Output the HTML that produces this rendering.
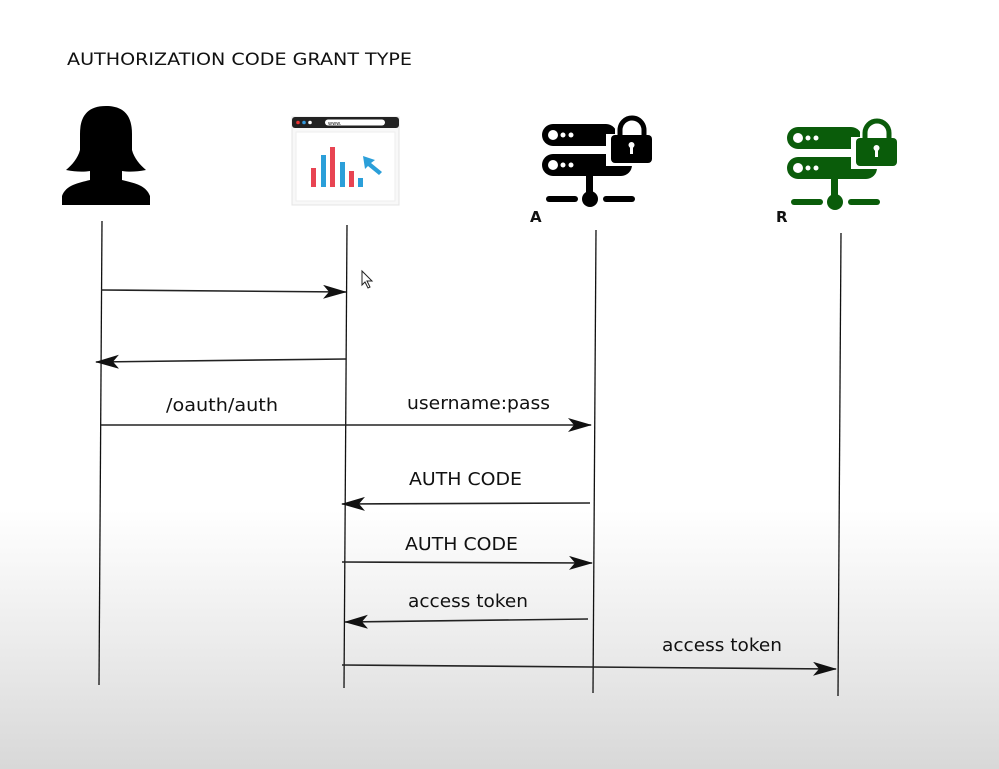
<!DOCTYPE html>
<html><head><meta charset="utf-8"><style>
html,body{margin:0;padding:0}
body{width:999px;height:769px;overflow:hidden;background:linear-gradient(#fff 0px,#fff 510px,#ececec 640px,#d8d8d8 769px)}
svg{position:absolute;left:0;top:0}
text{font-family:"DejaVu Sans","Liberation Sans",sans-serif;fill:#111}
</style></head><body>
<svg width="999" height="769" viewBox="0 0 999 769">
<defs>
<marker id="ah" viewBox="0 0 24 14" refX="23" refY="7" markerWidth="24" markerHeight="14" markerUnits="userSpaceOnUse" orient="auto">
<path d="M0,0 L24,7 L0,14 L6,7 Z" fill="#111"/>
</marker>
</defs>
<text x="67" y="65" font-size="17" textLength="345" lengthAdjust="spacingAndGlyphs">AUTHORIZATION CODE GRANT TYPE</text>

<!-- person -->
<path d="M106,106 C86,106 80,118 80,134 L80,150 C78,158 72,165 66,170 C76,172 84,172 90,171 L90,180 C78,183 66,185 62,196 L62,205 L150,205 L150,196 C146,185 134,183 122,180 L122,171 C128,172 136,172 146,170 C140,165 134,158 132,150 L132,134 C132,118 126,106 106,106 Z" fill="#000"/>

<!-- browser -->
<rect x="292" y="117" width="107" height="88" fill="#f8f8f8" stroke="#e4e4e4"/>
<rect x="292" y="117" width="107" height="11" rx="3" fill="#222"/>
<circle cx="298" cy="122.5" r="1.8" fill="#e33"/><circle cx="304" cy="122.5" r="1.8" fill="#39d"/><circle cx="310" cy="122.5" r="1.8" fill="#fff"/>
<rect x="325" y="119.5" width="60" height="6" rx="3" fill="#fff"/>
<text x="328" y="125" font-size="5" fill="#333">www.</text>
<rect x="296" y="132" width="99" height="69" fill="#fff" stroke="#eee"/>
<rect x="311" y="168" width="5" height="19" fill="#e84452"/>
<rect x="321" y="155" width="5" height="32" fill="#2b9fd9"/>
<rect x="330" y="147" width="5" height="40" fill="#e84452"/>
<rect x="340" y="162" width="5" height="25" fill="#2b9fd9"/>
<rect x="349" y="171" width="5" height="16" fill="#e84452"/>
<rect x="358" y="178" width="5" height="9" fill="#2b9fd9"/>
<path d="M363,156 L375,160 L371,163 L382,172 L379,175 L368,166 L365,169 Z" fill="#2b9fd9"/>

<!-- server A -->
<g fill="#000">
<rect x="542" y="124" width="75" height="22" rx="11"/>
<rect x="542" y="154" width="90" height="22" rx="11"/>
<rect x="586" y="176" width="7" height="20"/>
<circle cx="590" cy="199" r="8"/>
<rect x="546" y="196" width="32" height="6" rx="3"/>
<rect x="603" y="196" width="32" height="6" rx="3"/>
<rect x="606" y="134" width="50" height="32" fill="#fff"/>
<path d="M620,138 v-8 a12,12 0 0 1 24,0 v8" fill="none" stroke="#fff" stroke-width="10"/>
<path d="M620,138 v-8 a12,12 0 0 1 24,0 v8" fill="none" stroke="#000" stroke-width="5"/>
<rect x="611" y="135" width="41" height="28" rx="4"/>
</g>
<g fill="#fff"><circle cx="553" cy="135" r="5"/><circle cx="563" cy="135" r="2.5"/><circle cx="571" cy="135" r="2.5"/>
<circle cx="553" cy="165" r="5"/><circle cx="563" cy="165" r="2.5"/><circle cx="571" cy="165" r="2.5"/>
<circle cx="631.5" cy="145" r="3"/><rect x="630" y="145" width="3" height="9"/></g>
<text x="530" y="222" font-size="15" font-weight="bold" fill="#000">A</text>

<!-- server R -->
<g transform="translate(245,-2)">
<g fill="#0a5c0a">
<rect x="542" y="129" width="75" height="22" rx="11"/>
<rect x="542" y="159" width="90" height="22" rx="11"/>
<rect x="586" y="181" width="7" height="20"/>
<circle cx="590" cy="204" r="8"/>
<rect x="546" y="201" width="32" height="6" rx="3"/>
<rect x="603" y="201" width="32" height="6" rx="3"/>
<rect x="606" y="139" width="50" height="32" fill="#fff"/>
<path d="M620,143 v-8 a12,12 0 0 1 24,0 v8" fill="none" stroke="#fff" stroke-width="10"/>
<path d="M620,143 v-8 a12,12 0 0 1 24,0 v8" fill="none" stroke="#0a5c0a" stroke-width="5"/>
<rect x="611" y="140" width="41" height="28" rx="4"/>
</g>
<g fill="#fff"><circle cx="553" cy="140" r="5"/><circle cx="563" cy="140" r="2.5"/><circle cx="571" cy="140" r="2.5"/>
<circle cx="553" cy="170" r="5"/><circle cx="563" cy="170" r="2.5"/><circle cx="571" cy="170" r="2.5"/>
<circle cx="631.5" cy="150" r="3"/><rect x="630" y="150" width="3" height="9"/></g>
</g>
<text x="776" y="222" font-size="15" font-weight="bold" fill="#000">R</text>

<!-- cursor -->
<path d="M362,271 L362,285 L365,282 L368,288 L370,287 L367,281 L372,281 Z" fill="#fff" stroke="#222" stroke-width="1"/>

<!-- lifelines -->
<g stroke="#111" stroke-width="1.3">
<line x1="102" y1="221" x2="99" y2="685"/>
<line x1="347" y1="225" x2="344" y2="688"/>
<line x1="596" y1="230" x2="593" y2="693"/>
<line x1="841" y1="233" x2="838" y2="696"/>
</g>

<!-- messages -->
<g stroke="#222" stroke-width="1.6" fill="none" marker-end="url(#ah)">
<line x1="101" y1="290" x2="346" y2="292"/>
<line x1="346" y1="359" x2="96" y2="362"/>
<line x1="101" y1="425" x2="591" y2="425"/>
<line x1="590" y1="503" x2="342" y2="504"/>
<line x1="342" y1="562" x2="592" y2="563"/>
<line x1="588" y1="619" x2="345" y2="622"/>
<line x1="342" y1="665" x2="836" y2="669"/>
</g>
<g font-size="18">
<text x="166" y="411" textLength="112" lengthAdjust="spacingAndGlyphs">/oauth/auth</text>
<text x="407" y="409" textLength="143" lengthAdjust="spacingAndGlyphs">username:pass</text>
<text x="409" y="485" textLength="113" lengthAdjust="spacingAndGlyphs">AUTH CODE</text>
<text x="405" y="550" textLength="113" lengthAdjust="spacingAndGlyphs">AUTH CODE</text>
<text x="408" y="607" textLength="120" lengthAdjust="spacingAndGlyphs">access token</text>
<text x="662" y="651" textLength="120" lengthAdjust="spacingAndGlyphs">access token</text>
</g>
</svg>
</body></html>
